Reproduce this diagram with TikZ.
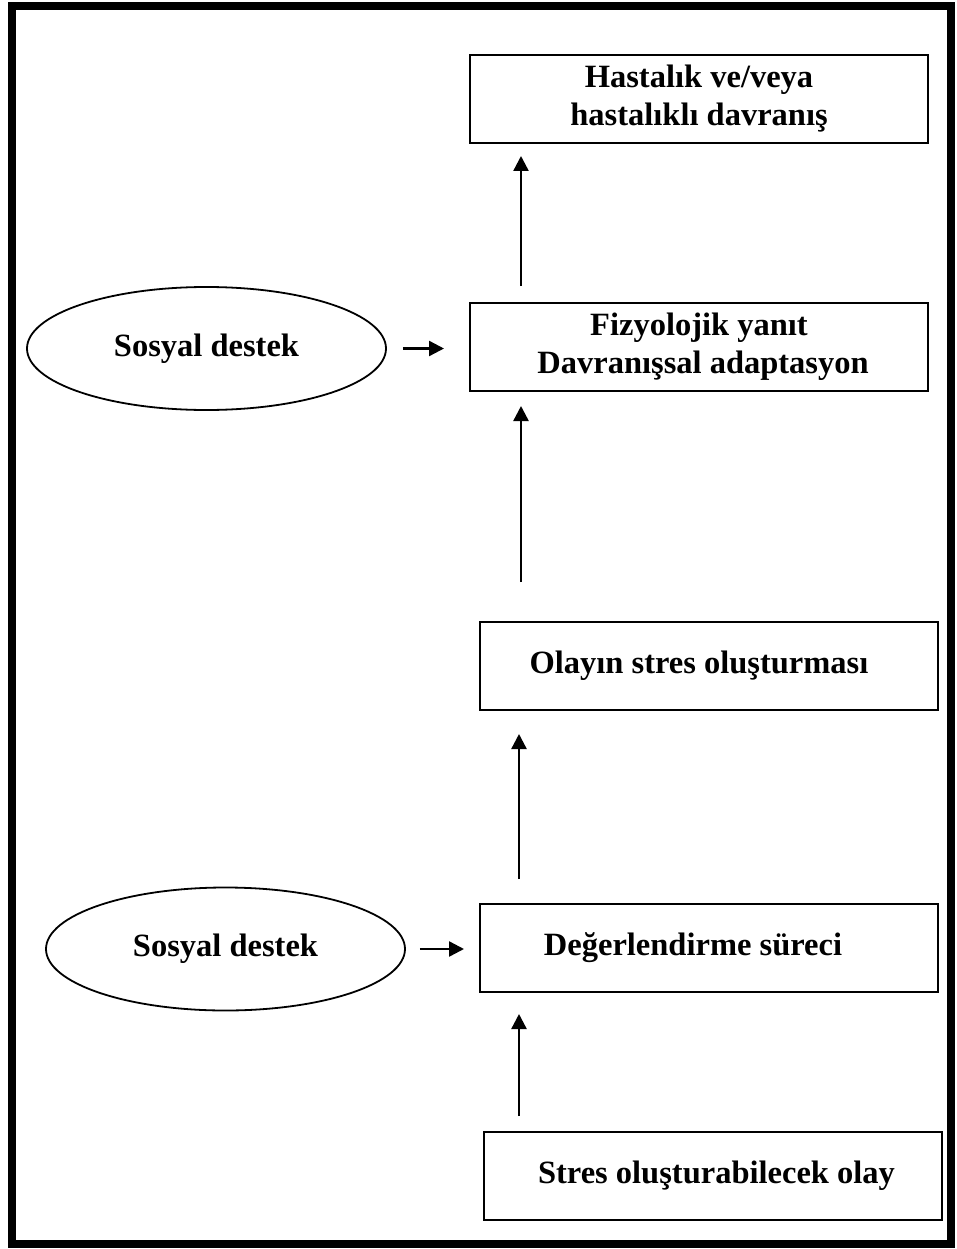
\documentclass[tikz,border=0pt]{standalone}
\usepackage{fontspec}
\setmainfont{Liberation Serif}
\usetikzlibrary{arrows.meta,shapes.geometric}

\begin{document}
\begin{tikzpicture}[x=1pt, y=1pt,
  font=\fontsize{32.5}{38}\selectfont\bfseries,
  kutu/.style={draw, line width=2pt, minimum width=458pt, minimum height=88pt, align=center, inner sep=0pt},
  elips/.style={draw, ellipse, line width=1.8pt, minimum width=359pt, minimum height=123pt, inner sep=0pt},
  ok/.style={-{Triangle[length=15pt, width=15pt]}, line width=2.4pt}]
  \useasboundingbox (0,0) rectangle (956,-1249);
  \draw[line width=8pt] (12,-6) rectangle (951,-1244);
  \node[kutu] (hd) at (699,-99) {Hastalık ve/veya\\hastalıklı davranış};
  \node[kutu] (fy) at (699,-347) {Fizyolojik yanıt\\\ Davranışsal adaptasyon};
  \node[kutu] (os) at (709,-666) {Olayın stres oluşturması\hspace{20pt}};
  \node[kutu] (ds) at (709,-948) {Değerlendirme süreci\hspace{32pt}};
  \node[kutu] (so) at (713,-1176) {\hspace{7pt}Stres oluşturabilecek olay};
  \node[elips] (sd1) at (206.5,-348.5) {Sosyal destek};
  \node[elips] (sd2) at (225.5,-949) {Sosyal destek};
  \draw[ok, shorten <=16pt, shorten >=12pt] ([xshift=52pt]fy.north west) -- ([xshift=52pt]hd.south west);
  \draw[ok, shorten <=39pt, shorten >=14pt] ([xshift=42pt]os.north west) -- ([xshift=42pt]os.north west |- fy.south);
  \draw[ok, shorten <=24pt, shorten >=23pt] ([xshift=40pt]ds.north west) -- ([xshift=40pt]os.south west);
  \draw[ok, shorten <=15pt, shorten >=21pt] ([xshift=36pt]so.north west) -- ([xshift=36pt]so.north west |- ds.south);
  \draw[ok, shorten <=16pt, shorten >=25pt] (sd1.east) -- (sd1.east -| fy.west);
  \draw[ok, shorten <=14pt, shorten >=15pt] (sd2.east) -- (sd2.east -| ds.west);
\end{tikzpicture}
\end{document}
